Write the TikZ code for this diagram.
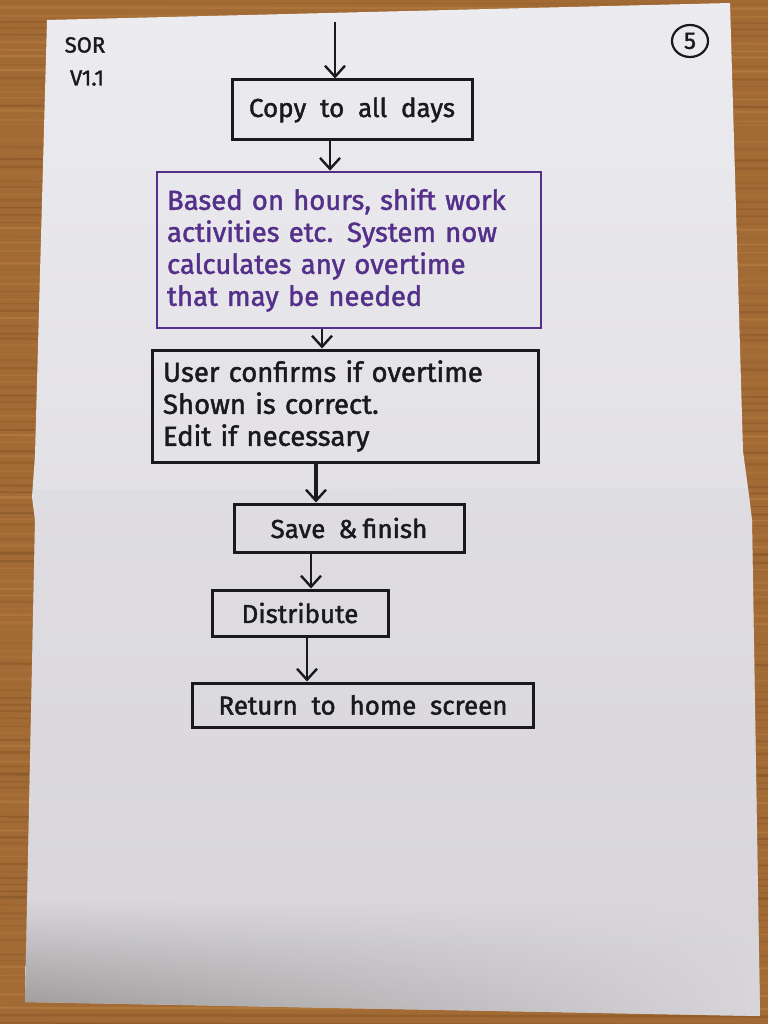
\documentclass[tikz,border=0pt]{standalone}
\usepackage{fontspec}
\setmainfont{Fira Sans}[FakeBold=1.6, WordSpace=2]
\usetikzlibrary{arrows.meta,fadings,shapes.geometric}

\definecolor{wood}{RGB}{162,106,52}
\definecolor{woodlight}{RGB}{190,132,72}
\definecolor{wooddark}{RGB}{124,78,36}
\definecolor{paper}{RGB}{236,235,240}
\definecolor{paperlow}{RGB}{216,214,219}
\definecolor{papershadow}{RGB}{140,136,134}
\definecolor{ink}{RGB}{26,26,30}
\definecolor{violetink}{RGB}{84,48,138}

\begin{document}
\begin{tikzpicture}[x=1pt,y=-1pt,
  box/.style={draw=ink, line width=3pt, text=ink, inner sep=0pt,
    font=\fontsize{26}{32}\selectfont},
  purplebox/.style={box, draw=violetink, text=violetink, line width=2.6pt},
  multiline/.style={align=left, text width=#1, font=\fontsize{27.5}{32}\selectfont},
  arr/.style={draw=ink, line width=2.6pt,
    -{Straight Barb[length=11pt, width=20pt, line width=2.4pt]}},
  note/.style={text=ink, font=\fontsize{22}{22}\selectfont, inner sep=0pt}
]
\useasboundingbox (0,0) rectangle (768,1024);

% table top with grain
\fill[wood] (0,0) rectangle (768,1024);
\pgfmathsetseed{7}
\foreach \i in {0,...,150} {
  \pgfmathsetmacro{\yy}{\i*6.9+3*rnd}
  \pgfmathsetmacro{\lw}{0.6+2.2*rnd}
  \pgfmathsetmacro{\op}{0.15+0.4*rnd}
  \pgfmathparse{rnd>0.5 ? 1 : 0}
  \ifnum\pgfmathresult=1
    \draw[woodlight, line width=\lw pt, opacity=\op] (0,\yy) -- (768,\yy+1.5);
  \else
    \draw[wooddark, line width=\lw pt, opacity=\op] (0,\yy) -- (768,\yy+1.5);
  \fi
}

% the sheet of paper, folded across the middle
\path[top color=paper, bottom color=paperlow]
  (47,20) -- (730,3) -- (743,451) -- (748,488) -- (752,520) -- (760,1016)
  -- (25,1002) -- (35,520) -- (32,497) -- (35,455) -- cycle;
\fill[paperlow, opacity=0.35]
  (33,490) -- (748,488) -- (752,520) -- (760,1016) -- (25,1002) -- (35,520) -- cycle;
\shade[left color=papershadow, right color=paperlow, path fading=north, opacity=0.8]
  (27,900) -- (758,905) -- (760,1016) -- (25,1002) -- cycle;

% corner notes
\node[note] (sor) at (85,45) {SOR};
\node[note] (ver) at (87,78) {V1.1};
\node[draw=ink, ellipse, line width=2.2pt, minimum width=36pt, minimum height=32pt,
  inner sep=0pt, text=ink, font=\fontsize{24}{24}\selectfont] (page) at (690,41) {5};

% flow steps
\node[box, minimum width=240pt, minimum height=60pt] (copy) at (352,110)
  {Copy to all days};
\node[purplebox, minimum width=384pt, minimum height=156pt, multiline=364pt]
  (calc) at (349,250)
  {Based on hours, shift work\\activities etc. System now\\calculates any overtime\\that may be needed};
\node[box, minimum width=386pt, minimum height=112pt, multiline=364pt]
  (user) at (345,406)
  {User confirms if overtime\\Shown is correct.\\Edit if necessary};
\node[box, minimum width=230pt, minimum height=48pt] (save) at (349,528)
  {Save\hspace{0.5em}\&\hspace{0.2em}finish};
\node[box, minimum width=176pt, minimum height=46pt] (dist) at (300,613)
  {Distribute};
\node[box, minimum width=341pt, minimum height=44pt] (home) at (363,705)
  {Return to home screen};

% connectors
\coordinate (start) at (335,22);
\draw[arr] (start) -- (start |- copy.north);
\draw[arr] (copy.south -| 330,0) -- (calc.north -| 330,0);
\draw[arr] (calc.south -| 322,0) -- (user.north -| 322,0);
\draw[arr, line width=3.2pt] (user.south -| 316,0) -- (save.north -| 316,0);
\draw[arr] (save.south -| 311,0) -- (dist.north -| 311,0);
\draw[arr] (dist.south -| 307,0) -- (home.north -| 307,0);
\end{tikzpicture}
\end{document}
